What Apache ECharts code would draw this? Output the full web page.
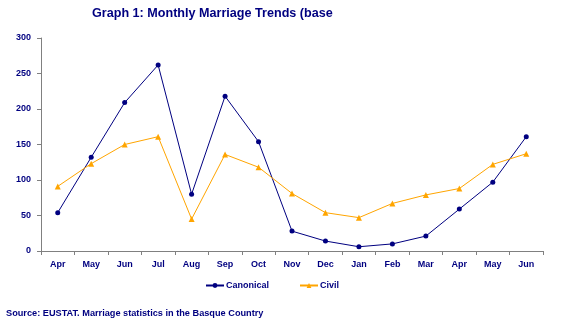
<!DOCTYPE html>
<html><head><meta charset="utf-8">
<script src="https://cdn.jsdelivr.net/npm/echarts@6/dist/echarts.min.js"></script>
<style>html,body{margin:0;padding:0;background:#fff}#c{width:568px;height:325px}</style>
</head><body><div id="c"></div>
<script>
const categories = ['Apr','May','Jun','Jul','Aug','Sep','Oct','Nov','Dec','Jan','Feb','Mar','Apr','May','Jun'];
const canonical = [54, 132, 209, 262, 80, 218, 154, 28, 14, 6, 10, 21, 59, 97, 161];
const civil = [91, 123, 150, 161, 45, 136, 118, 81, 54, 47, 67, 79, 88, 122, 137];
const yTicks = [0, 50, 100, 150, 200, 250, 300];
const navy = '#000080';
const orange = '#FFA500';
const font = '"Liberation Sans", Arial, sans-serif';

const chart = echarts.init(document.getElementById('c'));
chart.setOption({
  animation: false,
  backgroundColor: '#fff',
  textStyle: { fontFamily: font },
  title: [{
    text: 'Graph 1: Monthly Marriage Trends (base',
    left: 92, top: 7, padding: 0,
    textStyle: { color: navy, fontSize: 12.6, fontWeight: 'bold', fontFamily: font }
  }, {
    text: 'Source: EUSTAT. Marriage statistics in the Basque Country',
    left: 6, top: 309, padding: 0,
    textStyle: { color: navy, fontSize: 9.2, fontWeight: 'bold', fontFamily: font }
  }],
  legend: {
    top: 281, left: 205, padding: 0,
    itemWidth: 18, itemHeight: 6, itemGap: 30,
    textStyle: { color: navy, fontSize: 9, fontWeight: 'bold', fontFamily: font, padding: [0, 0, 0, -3] },
    data: ['Canonical', 'Civil']
  },
  grid: { left: 41, right: 25, top: 38, bottom: 74 },
  xAxis: {
    type: 'category',
    data: categories,
    boundaryGap: true,
    axisLine: { lineStyle: { color: '#808080', width: 1 } },
    axisTick: { show: true, length: 4, inside: false, lineStyle: { color: '#808080' } },
    axisLabel: { color: navy, fontSize: 9, fontWeight: 'bold', margin: 9, interval: 0, fontFamily: font },
    splitLine: { show: false }
  },
  yAxis: {
    type: 'value',
    min: yTicks[0], max: yTicks[yTicks.length - 1], interval: 50,
    axisLine: { show: true, lineStyle: { color: '#808080', width: 1 } },
    axisTick: { show: true, length: 4, lineStyle: { color: '#808080' } },
    axisLabel: { color: navy, fontSize: 9, fontWeight: 'bold', margin: 10, fontFamily: font },
    splitLine: { show: false }
  },
  series: [{
    name: 'Canonical',
    type: 'line',
    data: canonical,
    symbol: 'circle',
    symbolSize: 5,
    itemStyle: { color: navy },
    lineStyle: { color: navy, width: 1 }
  }, {
    name: 'Civil',
    type: 'line',
    data: civil,
    symbol: 'triangle',
    symbolSize: 6,
    itemStyle: { color: orange },
    lineStyle: { color: orange, width: 1 }
  }]
});
</script>
</body></html>
